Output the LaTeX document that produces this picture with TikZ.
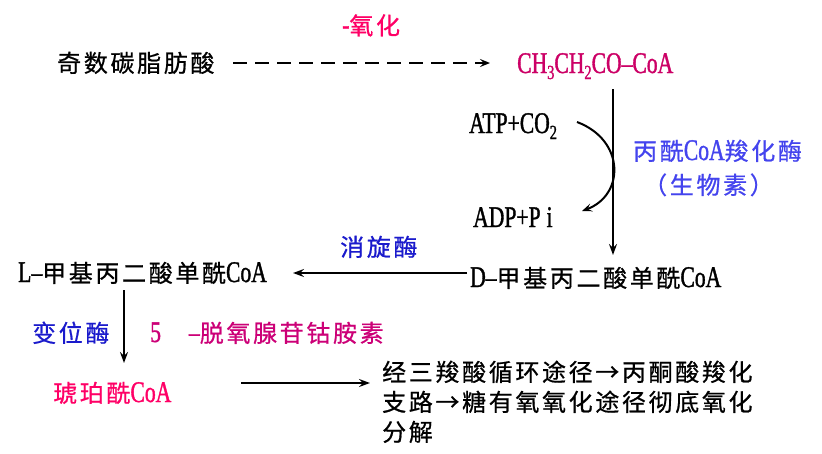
\documentclass[tikz,border=0pt]{standalone}
\usepackage{fontspec}
\setmainfont{Liberation Serif}
\newfontfamily\cjk[LetterSpace=11,FakeBold=0.7]{Noto Sans CJK SC}
\newfontfamily\lat[FakeStretch=0.72,FakeBold=1.2]{Liberation Serif}
\usetikzlibrary{arrows.meta}
\definecolor{pinkA}{HTML}{FF0066}
\definecolor{pinkB}{HTML}{CC0066}
\definecolor{pinkC}{HTML}{CC0077}
\definecolor{blueA}{HTML}{1A1ACC}
\definecolor{blueB}{HTML}{4444EE}
\newcommand{\latx}[1]{{\fontsize{30}{30}\selectfont\lat #1}}
\newcommand{\subx}[1]{\raisebox{-6pt}{\fontsize{20}{20}\selectfont\lat #1}}
\begin{document}
\begin{tikzpicture}[x=1pt,y=-1pt,
  lbl/.style={anchor=base west, inner sep=0pt, font=\fontsize{24}{30}\selectfont\cjk},
  arr/.style={line width=2.4pt, -{Stealth[length=11pt,width=8pt,inset=4pt]}},
  dasharr/.style={line width=2.2pt, dash pattern=on 14pt off 8pt, -{Stealth[length=10pt,width=8pt,inset=4pt]}},
  curvearr/.style={line width=2pt, -{Stealth[length=10pt,width=8pt,inset=4pt]}}]
\useasboundingbox[fill=white] (0,0) rectangle (822,453);
% texts
\node[lbl] (fa) at (57,72) {奇数碳脂肪酸};
\node[lbl, text=pinkA] (ox) at (342,34.5) {\latx{-}氧化};
\node[lbl, text=pinkB] (prop) at (517,73) {\latx{CH\subx{3}CH\subx{2}CO–CoA}};
\node[lbl] (atp) at (469,133) {\latx{ATP+CO\subx{2}}};
\node[lbl] (adp) at (473,227) {\latx{ADP+P\hspace{6pt}i}};
\node[lbl, text=blueB] (enz) at (633,160) {丙酰\latx{CoA}羧化酶};
\node[lbl, text=blueB] (bio) at (643,194) {（生物素）};
\node[lbl] (dm) at (470,287) {\latx{D–}甲基丙二酸单酰\latx{CoA}};
\node[lbl, text=blueA] (rac) at (340,256) {消旋酶};
\node[lbl] (lm) at (18,282) {\latx{L–}甲基丙二酸单酰\latx{CoA}};
\node[lbl, text=blueA] (mut) at (32,342) {变位酶};
\node[lbl, text=pinkC] (cob) at (150,342) {\latx{5}\hspace{28pt}\latx{–}脱氧腺苷钴胺素};
\node[lbl, text=pinkA] (suc) at (53,402) {琥珀酰\latx{CoA}};
\node[lbl, align=left] (fate) at (382,441) {经三羧酸循环途径→丙酮酸羧化\\支路→糖有氧氧化途径彻底氧化\\分解};
% connector ends
\coordinate (d1) at (233,63);
\coordinate (d2) at (490,63);
\coordinate (v1) at (613,89);
\coordinate (v2) at (613,255);
\coordinate (c1) at (577,122);
\coordinate (c2) at (582,211);
\coordinate (h1) at (467,273);
\coordinate (h2) at (293,273);
\coordinate (l1) at (124,290);
\coordinate (l2) at (124,363);
\coordinate (b1) at (241,383);
\coordinate (b2) at (370,383);
% connectors
\draw[dasharr] (d1) -- (d2);
\draw[arr] (v1) -- (v2);
\draw[curvearr] (c1) .. controls (625,140) and (625,195) .. (c2);
\draw[arr] (h1) -- (h2);
\draw[arr] (l1) -- (l2);
\draw[arr] (b1) -- (b2);
\end{tikzpicture}
\end{document}
